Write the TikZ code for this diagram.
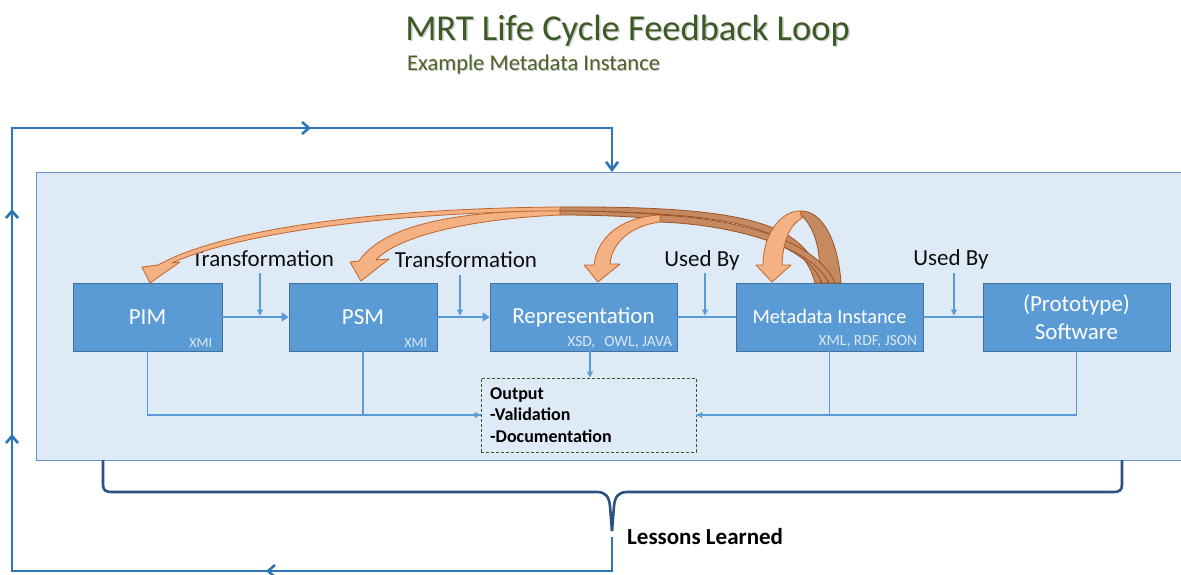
\documentclass[tikz,border=0pt]{standalone}
\usepackage{fontspec}
\setmainfont{Carlito}
\usetikzlibrary{arrows.meta,calc}
\definecolor{panelfill}{HTML}{DEEBF7}
\definecolor{panelline}{HTML}{6B92C4}
\definecolor{boxfill}{HTML}{5B9BD5}
\definecolor{boxline}{HTML}{41719C}
\definecolor{connc}{HTML}{5B9BD5}
\definecolor{loopc}{HTML}{2E75B6}
\definecolor{bracec}{HTML}{2C5282}
\definecolor{orfill}{HTML}{F4B183}
\definecolor{orline}{HTML}{C0652A}
\definecolor{brfill}{HTML}{C58A60}
\definecolor{brline}{HTML}{9C5224}
\definecolor{titlec}{HTML}{3B5A26}
\definecolor{subc}{HTML}{4F6228}
\definecolor{dashc}{HTML}{385723}
\definecolor{smallc}{HTML}{DCE8F6}
\definecolor{labc}{HTML}{0D0D0D}
\begin{document}
\begin{tikzpicture}[x=1pt,y=-1pt,
  panelst/.style={draw=panelline, fill=panelfill, line width=1pt, inner sep=0pt, anchor=north west},
  boxst/.style={draw=boxline, fill=boxfill, line width=0.8pt, text=white, minimum height=68pt, inner sep=2pt, align=center},
  bigtxt/.style={font=\fontsize{23}{27}\selectfont},
  midtxt/.style={font=\fontsize{23}{28}\selectfont},
  smalllab/.style={text=smallc, font=\fontsize{15.5}{17}\selectfont, inner sep=0pt},
  lbl/.style={text=labc, font=\fontsize{23}{27}\selectfont, inner sep=0pt},
  mainarr/.style={draw=connc, line width=2.5pt, -{Triangle[width=9pt,length=7pt]}},
  mainln/.style={draw=connc, line width=2.5pt},
  thinarr/.style={draw=connc, line width=1.2pt, -{Triangle[width=6pt,length=6pt]}},
  thinln/.style={draw=connc, line width=1.2pt},
  loopln/.style={draw=loopc, line width=2.6pt},
  loopmk/.style={draw=loopc, line width=2.6pt, -{Straight Barb[width=12pt,length=7pt]}},
  bracest/.style={draw=bracec, line width=2.6pt, line join=round},
  outst/.style={draw=dashc, line width=0.9pt, dash pattern=on 3pt off 2pt, inner sep=0pt},
  outtxt/.style={font=\bfseries\fontsize{18}{21.5}\selectfont, text=black, inner sep=0pt, align=left},
  backst/.style={fill=brfill, draw=brline, line width=0.8pt, line join=round},
  frontst/.style={fill=orfill, draw=orline, line width=0.8pt, line join=round}
]
\useasboundingbox (0,0) rectangle (1181,574);
\fill[white] (0,0) rectangle (1181,574);

% title
\node[anchor=base, text=black!40, opacity=0.5, font=\fontsize{36.5}{40}\selectfont, inner sep=0pt] (titlesh) at (629,41.5) {MRT Life Cycle Feedback Loop};
\node[anchor=base, text=titlec, font=\fontsize{36.5}{40}\selectfont, inner sep=0pt] (title) at (627.5,40) {MRT Life Cycle Feedback Loop};
\node[anchor=base west, text=black!40, opacity=0.5, font=\fontsize{22.5}{26}\selectfont, inner sep=0pt] (subsh) at (408,71) {Example Metadata Instance};
\node[anchor=base west, text=subc, font=\fontsize{22.5}{26}\selectfont, inner sep=0pt] (subtitle) at (407,70) {Example Metadata Instance};

% panel
\node[panelst, minimum width=1146pt, minimum height=288pt] (panel) at (36,172) {};

% outer loop
\coordinate (lpa) at (612,537);
\coordinate (lpb) at (612,571);
\coordinate (lpc) at (12,571);
\coordinate (lpd) at (12,128);
\coordinate (lpe) at (612,128);
\coordinate (lpf) at (612,172);
\draw[loopln, -{Straight Barb[width=12pt,length=8pt]}] (lpa) -- (lpb) -- (lpc) -- (lpd) -- (lpe) -- (lpf);
\coordinate (mk1a) at (272,128); \coordinate (mk1b) at (311,128);
\coordinate (mk2a) at (12,245); \coordinate (mk2b) at (12,209);
\coordinate (mk3a) at (12,470); \coordinate (mk3b) at (12,434);
\coordinate (mk4a) at (318,571); \coordinate (mk4b) at (266,571);
\draw[loopmk] (mk1a) -- (mk1b);
\draw[loopmk] (mk2a) -- (mk2b);
\draw[loopmk] (mk3a) -- (mk3b);
\draw[loopmk] (mk4a) -- (mk4b);

% brace
\coordinate (brl) at (103,460); \coordinate (brr) at (1122,460); \coordinate (brt) at (612,531);
\draw[bracest] (brl) -- (103,484) .. controls (103,490) and (105,492) .. (112,492) -- (597,492) .. controls (606,492) and (609,497) .. (610,506) -- (brt);
\draw[bracest] (brt) -- (614,506) .. controls (615,497) and (618,492) .. (627,492) -- (1113,492) .. controls (1120,492) and (1122,490) .. (1122,484) -- (brr);
\node[font=\bfseries\fontsize{23}{26}\selectfont, anchor=west, inner sep=0pt] (lessons) at (627,537) {Lessons Learned};

% boxes
\node[boxst, bigtxt, minimum width=149pt] (pim) at (147.5,317) {PIM};
\node[boxst, bigtxt, minimum width=148pt] (psm) at (363,317) {PSM};
\node[boxst, bigtxt, minimum width=187pt] (rep) at (583.5,317) {Representation};
\node[boxst, font=\fontsize{20.3}{24}\selectfont, minimum width=187pt] (meta) at (829.5,317) {Metadata Instance};
\node[boxst, midtxt, minimum width=187pt] (soft) at (1076.5,317) {(Prototype)\\Software};

\node[smalllab, font=\fontsize{14}{16}\selectfont, anchor=base east] (pimx) at ($(pim.south east)+(-10,-4)$) {XMI};
\node[smalllab, font=\fontsize{14}{16}\selectfont, anchor=base east] (psmx) at ($(psm.south east)+(-10,-4)$) {XMI};
\node[smalllab, anchor=base east] (repx) at ($(rep.south east)+(-5,-5)$) {XSD,\hspace{0.35em} OWL, JAVA};
\node[smalllab, anchor=base east] (metax) at ($(meta.south east)+(-6,-6)$) {XML, RDF, JSON};

% main connectors
\draw[mainarr] (pim.east) -- (psm.west);
\draw[mainarr] (psm.east) -- (rep.west);
\draw[mainln] (rep.east) -- (meta.west);
\draw[mainln] (meta.east) -- (soft.west);

% labels
\node[lbl] (tr1) at (263,259) {Transformation};
\node[lbl] (tr2) at (466,260) {Transformation};
\node[lbl] (ub1) at (702,260) {Used By};
\node[lbl] (ub2) at (951,259) {Used By};
\coordinate (tr1a) at (260,273); \coordinate (tr1b) at (260,315.5);
\coordinate (tr2a) at (460,275); \coordinate (tr2b) at (460,315.5);
\coordinate (ub1a) at (705,273); \coordinate (ub1b) at (705,315.5);
\coordinate (ub2a) at (954,273); \coordinate (ub2b) at (954,315.5);
\draw[thinarr] (tr1a) -- (tr1b);
\draw[thinarr] (tr2a) -- (tr2b);
\draw[thinarr] (ub1a) -- (ub1b);
\draw[thinarr] (ub2a) -- (ub2b);

% output
\node[outst, minimum width=215pt, minimum height=74pt] (outbox) at (588.5,415) {};
\node[outtxt, anchor=north west] (outtext) at (490,387) {Output\\-Validation\\-Documentation};
\coordinate (repo) at (590,351);
\draw[thinarr] (repo) -- (repo |- outbox.north);
\draw[thinarr] (pim.south) |- (outbox.west);
\draw[thinln] (psm.south) |- (outbox.west);
\draw[thinarr] (meta.south) |- (outbox.east);
\draw[thinln] (soft.south) |- (outbox.east);

% curved orange arrows
\path[backst] (818,283) .. controls (823,255) and (815,228) .. (802,216) -- (800,211) .. controls (822,210) and (838,240) .. (841,283) -- cycle;
\path[backst] (560,207) .. controls (744,206) and (809,222) .. (821,283) -- (815,283) .. controls (801,228) and (738,212) .. (560,211) -- cycle;
\path[backst] (560,211) .. controls (733,211) and (813,237) .. (828,283) -- (822,283) .. controls (807,243) and (727,215) .. (560,215) -- cycle;
\path[backst] (660,215) .. controls (742,219) and (818,242) .. (835,283) -- (829,283) .. controls (812,248) and (738,225) .. (660,222) -- cycle;
\path[frontst] (800,211) .. controls (780,211) and (763,235) .. (763,265) -- (756,265) -- (772,282) -- (791,265) -- (782,265) .. controls (783,240) and (790,225) .. (802,218) -- cycle;
\path[frontst] (560,207) .. controls (400,208) and (230,225) .. (158,265) -- (142,267) -- (150,283) -- (180,262) -- (172,263) .. controls (240,232) and (400,212) .. (560,211) -- cycle;
\path[frontst] (560,211) .. controls (470,210) and (385,222) .. (359,261) -- (350,262) -- (361,281) -- (389,259) -- (376,260) .. controls (398,236) and (470,219) .. (560,215) -- cycle;
\path[frontst] (660,215) .. controls (620,217) and (597,238) .. (594,265) -- (584,265) -- (598,282) -- (620,264) -- (610,264) .. controls (612,243) and (630,226) .. (660,222) -- cycle;
\end{tikzpicture}
\end{document}
